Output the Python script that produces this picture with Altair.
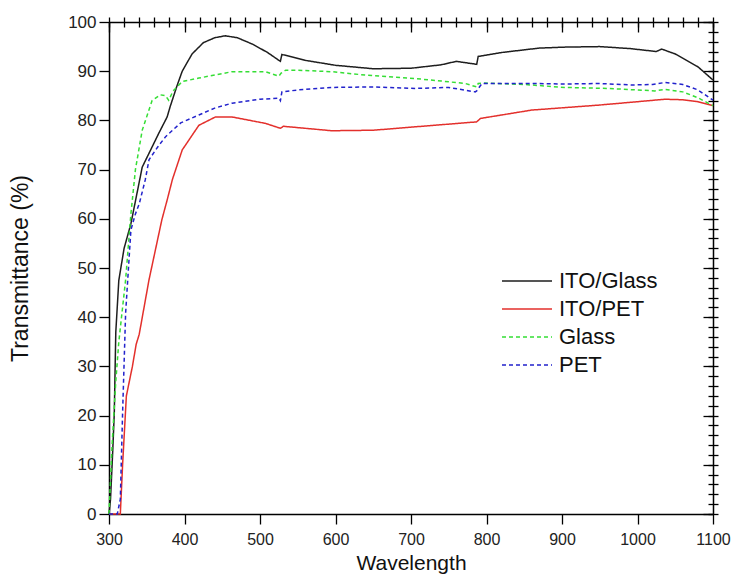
import altair as alt
import pandas as pd

# ---- data ----
series_names = ["ITO/Glass", "ITO/PET", "Glass", "PET"]

ito_glass_wl = [300, 302, 305, 307, 309, 313, 320, 329, 344, 366, 377, 381, 390, 397, 410, 425,
                440, 454, 470, 490, 510, 527, 529, 540, 560, 600, 650, 700, 740, 760, 787, 789,
                820, 870, 905, 950, 990, 1025, 1032, 1050, 1080, 1100]
ito_glass_t = [0, 3, 13, 20.5, 37, 47.5, 54, 59, 70.5, 77.4, 80.7, 82.8, 87, 90, 93.5, 95.8,
               96.8, 97.2, 96.8, 95.5, 93.8, 92, 93.4, 93, 92.2, 91.2, 90.5, 90.6, 91.3, 92, 91.4, 93,
               93.8, 94.7, 94.9, 95, 94.6, 94, 94.5, 93.5, 90.9, 88.2]

ito_pet_wl = [300, 315, 318, 323, 331, 336, 340, 353, 370, 377, 384, 397, 419, 441, 463, 507,
              527, 531, 595, 650, 706, 787, 792, 860, 948, 1000, 1036, 1060, 1080, 1100]
ito_pet_t = [0, 0, 10, 24, 30, 34.5, 36.5, 47.6, 59.8, 63.8, 68, 74, 79, 80.7, 80.7, 79.4,
             78.4, 78.8, 77.9, 78, 78.7, 79.7, 80.4, 82.1, 83.1, 83.8, 84.3, 84.2, 83.8, 83]

glass_wl = [300, 304, 309, 313, 322, 329, 335, 344, 357, 368, 375, 379, 385, 397, 419, 463,
            507, 525, 528, 534, 551, 595, 640, 706, 740, 772, 787, 789, 794, 850, 904, 960,
            1023, 1036, 1060, 1080, 1100]
glass_t = [0, 13.7, 27, 35, 47.6, 61, 70, 78, 84, 85.2, 85, 84.1, 86, 87.9, 88.6, 89.9,
           89.9, 89, 89.6, 90.2, 90.2, 89.9, 89.2, 88.5, 88, 87.5, 86.8, 87.5, 87.6, 87.3, 86.7, 86.5,
           86, 86.3, 85.8, 84.6, 83]

pet_wl = [300, 311, 315, 318, 322, 329, 335, 340, 348, 353, 365, 375, 395, 419, 440, 463,
          500, 525, 527, 529, 551, 595, 650, 706, 750, 785, 787, 794, 860, 904, 950, 992,
          1020, 1036, 1060, 1080, 1100]
pet_t = [0, 0, 3, 20.5, 40.8, 57.7, 61, 63, 67.9, 72, 74.7, 76.7, 79.5, 81.1, 82.5, 83.5,
         84.3, 84.5, 84, 85.8, 86.2, 86.7, 86.8, 86.5, 86.7, 85.8, 86, 87.5, 87.5, 87.4, 87.5, 87.2,
         87.3, 87.7, 87.3, 86.2, 84.1]

x_major = list(range(300, 1101, 100))
x_minor = list(range(300, 1101, 20))
y_major = list(range(0, 101, 10))
y_minor = list(range(0, 101, 2))

colors = ["#1e1e1e", "#e3302c", "#35de35", "#2222cc"]
dashes = [[1, 0], [1, 0], [4, 3], [4, 3]]

rows = []
for name, wl, t in [("ITO/Glass", ito_glass_wl, ito_glass_t),
                    ("ITO/PET", ito_pet_wl, ito_pet_t),
                    ("Glass", glass_wl, glass_t),
                    ("PET", pet_wl, pet_t)]:
    for i, (w, v) in enumerate(zip(wl, t)):
        rows.append({"series": name, "wl": w, "T": v, "order": i})
df = pd.DataFrame(rows)

W, H = 604, 492
FONT = "Liberation Sans"
xs = alt.Scale(domain=[300, 1100], nice=False, zero=False)
ys = alt.Scale(domain=[0, 100], nice=False)

def legend():
    return alt.Legend(orient="none", legendX=407, legendY=248, title=None,
                      symbolType="M-5,0H5", symbolSize=100,
                      symbolStrokeWidth=1.5, labelFontSize=22, labelFont=FONT,
                      labelColor="#111111", labelOffset=21, rowPadding=6, padding=0)

main = alt.Chart(df).mark_line(strokeWidth=1.5).encode(
    x=alt.X("wl:Q", scale=xs, axis=alt.Axis(values=x_major, tickSize=10, format="d",
                                           title="Wavelength", labelFlush=False,
                                           labelFontSize=16,
                                           labelPadding=7, titlePadding=5)),
    y=alt.Y("T:Q", scale=ys, axis=alt.Axis(values=y_major, tickSize=10, format="d",
                                          title="Transmittance (%)", labelPadding=3,
                                          titlePadding=35, titleFontSize=23)),
    color=alt.Color("series:N", scale=alt.Scale(domain=series_names, range=colors),
                    legend=legend()),
    strokeDash=alt.StrokeDash("series:N", scale=alt.Scale(domain=series_names, range=dashes),
                              legend=legend()),
    order="order:Q",
)

def hidden(xaxis, yaxis):
    return alt.Chart(df).mark_line(opacity=0).encode(
        x=alt.X("wl:Q", scale=xs, axis=xaxis),
        y=alt.Y("T:Q", scale=ys, axis=yaxis),
    )

minor_bl = hidden(
    alt.Axis(values=x_minor, tickSize=5, labels=False, domain=False, title=None),
    alt.Axis(values=y_minor, tickSize=5, labels=False, domain=False, title=None),
)
major_tr = hidden(
    alt.Axis(orient="bottom", offset=-H, values=x_major, tickSize=10, labels=False, title=None),
    alt.Axis(orient="left", offset=-W, values=y_major, tickSize=10, labels=False, title=None),
)
minor_tr = hidden(
    alt.Axis(orient="bottom", offset=-H, values=x_minor, tickSize=5, labels=False, domain=False, title=None),
    alt.Axis(orient="left", offset=-W, values=y_minor, tickSize=5, labels=False, domain=False, title=None),
)

chart = alt.layer(main, minor_bl, major_tr, minor_tr).resolve_axis(
    x="independent", y="independent"
).properties(
    width=W, height=H,
    autosize=alt.AutoSizeParams(type="none"),
    padding={"left": 101, "top": 14, "right": 18, "bottom": 64},
).configure_view(strokeWidth=0).configure_axis(
    grid=False, domainColor="#000000", domainWidth=1.5, tickColor="#000000", tickWidth=1.3,
    labelFont=FONT, labelFontSize=17, labelColor="#222222",
    titleFont=FONT, titleFontSize=21, titleFontWeight="normal", titleColor="#111111",
)

chart.save("out.html", embed_options={"renderer": "svg", "actions": False})
